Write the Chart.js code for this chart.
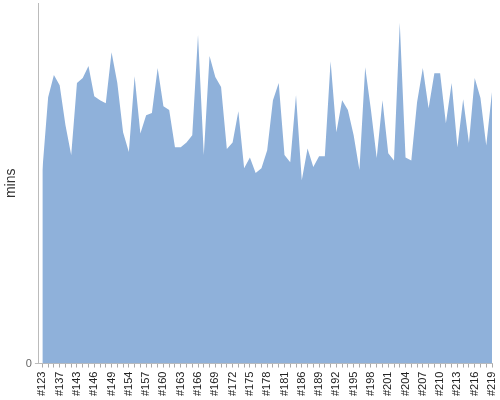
<!DOCTYPE html>
<html><head><meta charset="utf-8">
<script src="https://cdn.jsdelivr.net/npm/chart.js@4"></script>
<style>html,body{margin:0;padding:0;background:#fff}#w{width:500px;height:400px}</style>
</head><body><div id="w"><canvas id="c"></canvas></div>
<script>
const buildLabels = ["#123","#128","#133","#137","#140","#141","#143","#144","#145","#146","#147","#148","#149","#151","#152","#154","#155","#156","#157","#158","#159","#160","#161","#162","#163","#164","#165","#166","#167","#168","#169","#170","#171","#172","#173","#174","#175","#176","#177","#178","#179","#180","#181","#183","#184","#186","#187","#188","#189","#190","#191","#192","#193","#194","#195","#196","#197","#198","#199","#200","#201","#202","#203","#204","#205","#206","#207","#208","#209","#210","#211","#212","#213","#214","#215","#216","#217","#218","#219"];
const durationMins = [32.2,44.3,48.0,46.3,39.7,34.7,46.7,47.5,49.5,44.5,43.8,43.3,51.8,46.7,38.5,35.2,47.8,38.3,41.3,41.7,49.2,42.8,42.2,36.0,36.0,36.8,38.0,54.7,34.7,51.2,47.7,46.0,35.7,36.8,42.0,32.5,34.3,31.7,32.5,35.5,43.8,46.7,34.7,33.5,44.7,30.5,35.8,32.7,34.5,34.5,50.3,38.5,43.8,42.2,38.0,32.2,49.3,42.2,34.2,43.8,35.0,33.8,56.7,34.3,33.8,43.5,49.2,42.5,48.3,48.3,40.0,46.7,36.0,44.0,36.7,47.5,44.2,36.3,45.2];
const yTickLabels = [0];

const points = durationMins.map((v,i)=>({x:i,y:v}));
new Chart(document.getElementById('c'),{
  type:'line',
  data:{datasets:[{data:points,fill:'origin',backgroundColor:'#8fb1da',borderWidth:0,pointRadius:0,tension:0}]},
  options:{
    responsive:true,maintainAspectRatio:false,animation:false,
    layout:{padding:{top:3,right:8,left:0,bottom:0}},
    plugins:{legend:{display:false},tooltip:{enabled:false}},
    scales:{
      x:{type:'linear',min:-0.6,max:buildLabels.length-1,
        afterBuildTicks:s=>{s.ticks=buildLabels.map((_,i)=>({value:i}));},
        afterFit:s=>{s.paddingLeft=0;s.paddingRight=0;},
        ticks:{autoSkip:false,minRotation:90,maxRotation:90,padding:4,color:'#222',
          font:{family:'Liberation Sans, Arial',size:11},
          callback:(v)=>v%3===0?buildLabels[v]:''},
        grid:{drawOnChartArea:false,tickLength:4,color:'#aaa'},
        border:{color:'#bbb'}},
      y:{min:0,max:60,
        afterBuildTicks:s=>{s.ticks=yTickLabels.map(v=>({value:v}));},
        afterFit:s=>{s.paddingTop=0;s.paddingBottom=0;},
        ticks:{color:'#666',font:{family:'Liberation Sans, Arial',size:11},padding:3},
        grid:{drawOnChartArea:false,tickLength:4,color:'#bbb'},
        border:{color:'#bbb'},
        title:{display:true,text:'mins',color:'#333',font:{family:'Liberation Sans, Arial',size:14},padding:{top:3,bottom:3}}}
    }
  }
});
</script></body></html>
